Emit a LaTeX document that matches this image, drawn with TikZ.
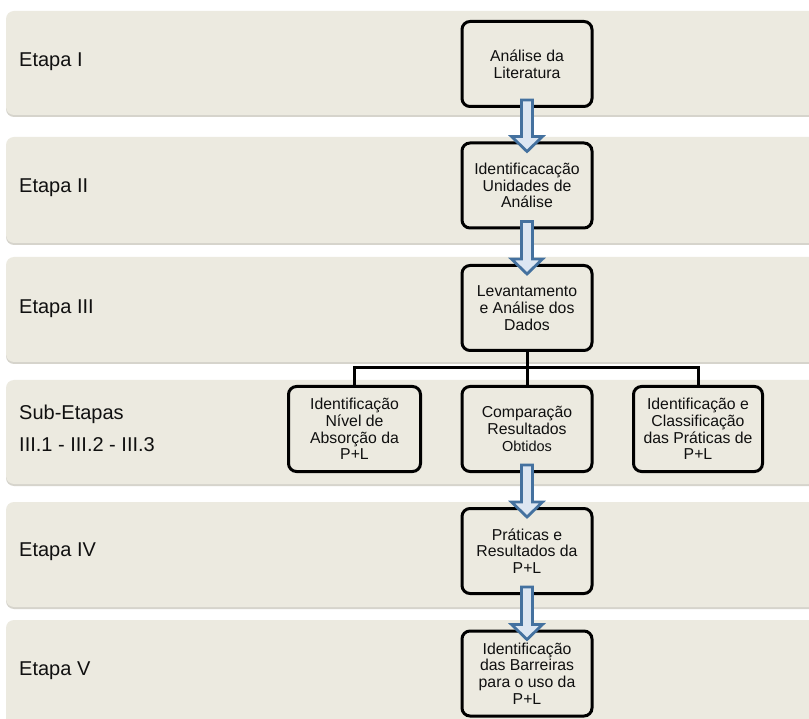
\documentclass[tikz,border=0pt]{standalone}
\usepackage{fontspec}
\setmainfont{Liberation Sans}
\usetikzlibrary{calc}
\definecolor{bandfill}{HTML}{ECEAE0}
\definecolor{bandshade}{HTML}{D6D4CC}
\definecolor{arrowfill}{HTML}{DCE6F2}
\definecolor{arrowline}{HTML}{44719F}
\definecolor{inktext}{HTML}{101010}
\tikzset{
  band/.style={fill=bandfill, draw=none, rounded corners=8pt},
  bandshadow/.style={fill=bandshade, draw=none, rounded corners=8pt},
  stagebox/.style={draw=black, line width=3pt, fill=bandfill, rounded corners=8pt,
    minimum width=130pt, minimum height=85pt, align=center, inner sep=1pt,
    text=inktext, font=\fontsize{15.8}{16.8}\selectfont},
  stagelabel/.style={anchor=west, inner sep=0pt, text=inktext,
    font=\fontsize{20}{22}\selectfont},
  blockarrow/.style={fill=arrowfill, draw=arrowline, line width=2.8pt, line join=miter},
  treeline/.style={draw=black, line width=3pt}
}
% block arrow from the bottom of one box to the top of the next
\newcommand{\flowarrow}[2]{%
  \draw[blockarrow] let \p1=(#1.south), \p2=(#2.north) in
    (\x1-5.5pt,\y1+8pt) -- (\x1+5.5pt,\y1+8pt) -- (\x1+5.5pt,\y2+5pt)
    -- (\x1+15.5pt,\y2+5pt) -- (\x1,\y2-10pt) -- (\x1-15.5pt,\y2+5pt)
    -- (\x1-5.5pt,\y2+5pt) -- cycle;}
\begin{document}
\begin{tikzpicture}[x=1pt,y=-1pt]
\useasboundingbox (0,0) rectangle (809,719);
\clip (0,0) rectangle (809,719);
\fill[white] (0,0) rectangle (809,719);

% horizontal stage bands
\foreach \t/\b in {11/115, 137/243, 257/362, 380/484, 502/607, 620/740}{
  \fill[bandshadow] (6,\t+3) rectangle (840,\b+2);
  \fill[band] (6,\t) rectangle (840,\b);
}

% stage labels
\node[stagelabel] (l1) at (19,62) {Etapa I};
\node[stagelabel] (l2) at (19,188) {Etapa II};
\node[stagelabel] (l3) at (19,309) {Etapa III};
\node[stagelabel] (l4a) at (19,414) {Sub-Etapas};
\node[stagelabel] (l4b) at (19,445) {III.1 - III.2 - III.3};
\node[stagelabel] (l5) at (19,552) {Etapa IV};
\node[stagelabel] (l6) at (19,671) {Etapa V};

% process boxes
\node[stagebox] (b1) at (527,64) {Análise da\\Literatura};
\node[stagebox] (b2) at (527,185.5) {Identificacação\\Unidades de\\Análise};
\node[stagebox] (b3) at (527,308) {Levantamento\\e Análise dos\\Dados};
\node[stagebox, minimum width=132pt] (sa) at (354.5,429) {Identificação\\Nível de\\Absorção da\\P+L};
\node[stagebox] (sb) at (527,429) {Comparação\\Resultados\\{\fontsize{14.5}{16}\selectfont Obtidos}};
\node[stagebox, minimum width=129pt] (sc) at (698,429) {Identificação e\\Classificação\\das Práticas de\\P+L};
\node[stagebox] (b4) at (527,551) {Práticas e\\Resultados da\\P+L};
\node[stagebox] (b5) at (527,673.5) {Identificação\\das Barreiras\\para o uso da\\P+L};

% branching into the sub-stages
\coordinate (bus) at (527,368);
\draw[treeline] (b3.south) -- (bus);
\draw[treeline] (sa.north) |- (bus) -| (sc.north);
\draw[treeline] (bus) -- (sb.north);

% flow arrows
\flowarrow{b1}{b2}
\flowarrow{b2}{b3}
\flowarrow{sb}{b4}
\flowarrow{b4}{b5}
\end{tikzpicture}
\end{document}
